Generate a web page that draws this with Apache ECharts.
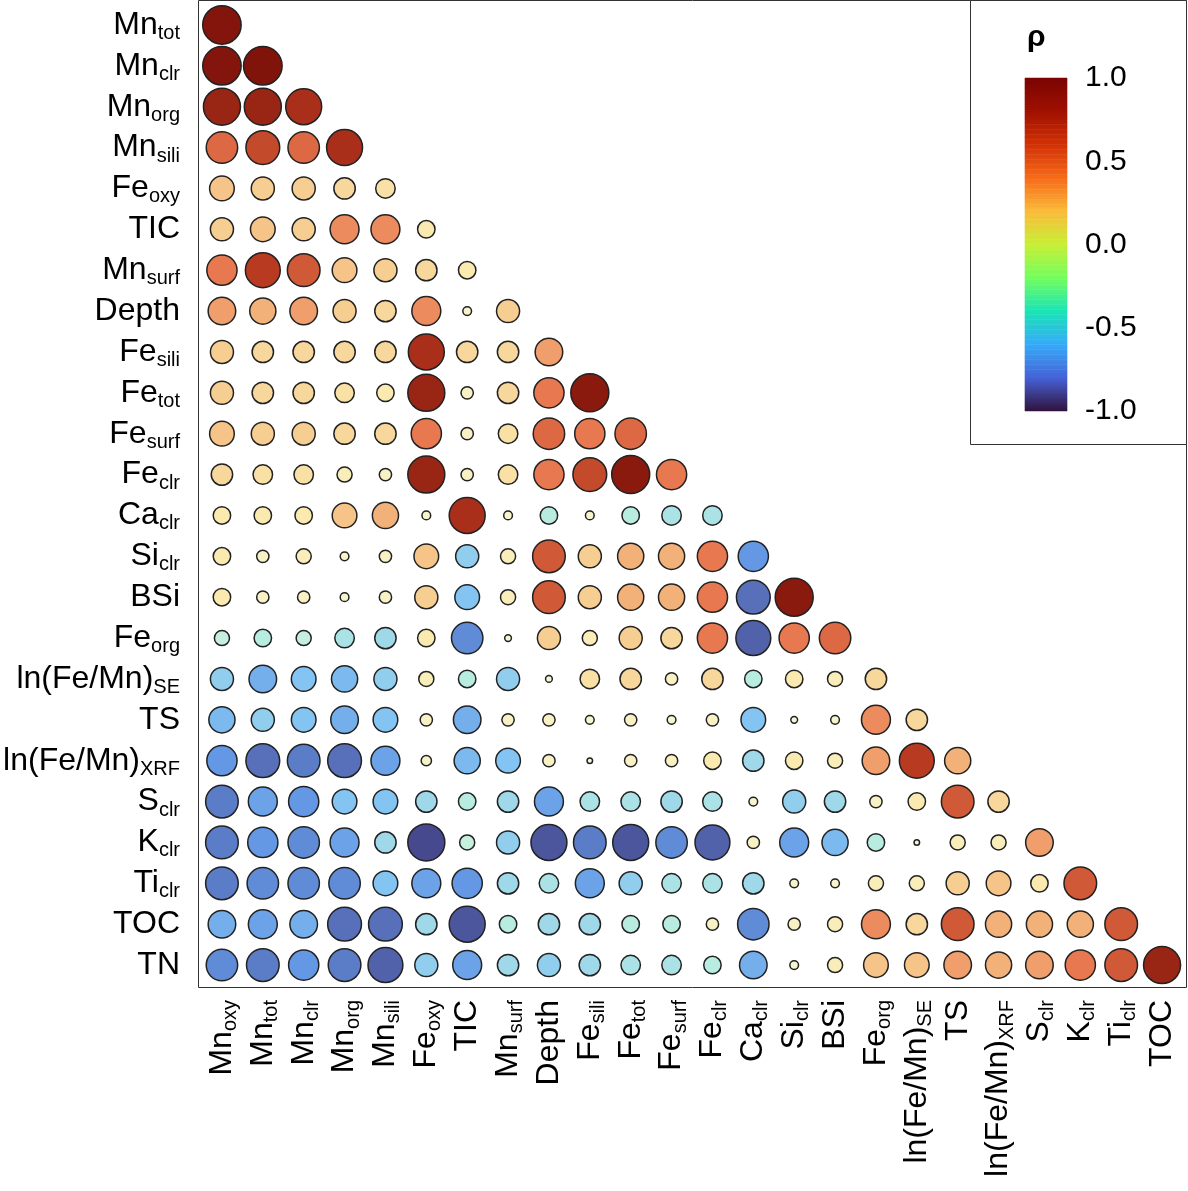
<!DOCTYPE html>
<html><head><meta charset="utf-8">
<script src="https://cdn.jsdelivr.net/npm/echarts@6/dist/echarts.min.js"></script>
<style>html,body{margin:0;padding:0;background:#fff}#c{width:1188px;height:1191px}</style>
</head><body><div id="c"></div>
<script>
const rowLabels = ['Mn_tot','Mn_clr','Mn_org','Mn_sili','Fe_oxy','TIC','Mn_surf','Depth','Fe_sili','Fe_tot','Fe_surf','Fe_clr','Ca_clr','Si_clr','BSi','Fe_org','ln(Fe/Mn)_SE','TS','ln(Fe/Mn)_XRF','S_clr','K_clr','Ti_clr','TOC','TN'];
const colLabels = ['Mn_oxy','Mn_tot','Mn_clr','Mn_org','Mn_sili','Fe_oxy','TIC','Mn_surf','Depth','Fe_sili','Fe_tot','Fe_surf','Fe_clr','Ca_clr','Si_clr','BSi','Fe_org','ln(Fe/Mn)_SE','TS','ln(Fe/Mn)_XRF','S_clr','K_clr','Ti_clr','TOC'];
const legendTicks = [-1, -0.5, 0, 0.5, 1];

const rho_Mn_tot = [0.97];
const rho_Mn_clr = [0.97,0.98];
const rho_Mn_org = [0.9,0.9,0.85];
const rho_Mn_sili = [0.65,0.75,0.65,0.85];
const rho_Fe_oxy = [0.4,0.35,0.35,0.3,0.25];
const rho_TIC = [0.35,0.4,0.35,0.55,0.55,0.2];
const rho_Mn_surf = [0.6,0.8,0.7,0.4,0.35,0.3,0.2];
const rho_Depth = [0.5,0.45,0.5,0.35,0.3,0.55,0.05,0.35];
const rho_Fe_sili = [0.35,0.3,0.3,0.3,0.3,0.85,0.3,0.3,0.5];
const rho_Fe_tot = [0.35,0.3,0.3,0.25,0.2,0.9,0.1,0.3,0.6,0.95];
const rho_Fe_surf = [0.4,0.35,0.35,0.3,0.3,0.6,0.1,0.25,0.65,0.6,0.65];
const rho_Fe_clr = [0.3,0.25,0.25,0.15,0.1,0.9,0.1,0.25,0.6,0.75,0.95,0.6];
const rho_Ca_clr = [0.2,0.2,0.2,0.4,0.45,0.05,0.85,0.05,-0.2,0.05,-0.2,-0.25,-0.25];
const rho_Si_clr = [0.2,0.1,0.15,0.05,0.1,0.4,-0.35,0.15,0.7,0.35,0.45,0.45,0.6,-0.6];
const rho_BSi = [0.2,0.1,0.1,0.05,0.1,0.35,-0.4,0.15,0.7,0.35,0.45,0.45,0.6,-0.75,0.95];
const rho_Fe_org = [-0.15,-0.2,-0.15,-0.25,-0.3,0.2,-0.65,0.03,0.35,0.15,0.35,0.3,0.6,-0.8,0.6,0.65];
const rho_lnSE = [-0.35,-0.5,-0.4,-0.45,-0.35,0.15,-0.2,-0.35,0.03,0.25,0.3,0.1,0.3,-0.2,0.2,0.15,0.3];
const rho_TS = [-0.45,-0.35,-0.4,-0.5,-0.4,0.1,-0.5,0.1,0.1,0.05,0.1,0.05,0.1,-0.4,0.03,0.05,0.55,0.3];
const rho_lnXRF = [-0.6,-0.75,-0.7,-0.75,-0.55,0.07,-0.45,-0.4,0.1,0.02,0.1,0.1,0.2,-0.3,0.2,0.15,0.5,0.8,0.45];
const rho_S_clr = [-0.7,-0.55,-0.6,-0.4,-0.4,-0.3,-0.2,-0.3,-0.55,-0.25,-0.25,-0.3,-0.25,0.05,-0.35,-0.3,0.1,0.2,0.7,0.3];
const rho_K_clr = [-0.7,-0.6,-0.65,-0.55,-0.3,-0.9,-0.15,-0.35,-0.85,-0.7,-0.85,-0.65,-0.8,0.1,-0.55,-0.45,-0.2,0.02,0.15,0.15,0.5];
const rho_Ti_clr = [-0.7,-0.65,-0.65,-0.65,-0.4,-0.55,-0.6,-0.3,-0.25,-0.55,-0.35,-0.25,-0.25,-0.3,0.05,0.05,0.15,0.15,0.35,0.4,0.2,0.7];
const rho_TOC = [-0.5,-0.55,-0.5,-0.75,-0.75,-0.3,-0.85,-0.2,-0.3,-0.3,-0.2,-0.2,0.1,-0.65,0.1,0.15,0.55,0.3,0.7,0.45,0.45,0.45,0.7];
const rho_TN = [-0.65,-0.7,-0.6,-0.7,-0.8,-0.35,-0.55,-0.3,-0.35,-0.3,-0.25,-0.25,-0.2,-0.5,0.05,0.15,0.4,0.4,0.5,0.45,0.5,0.6,0.7,0.9];

const rows = [rho_Mn_tot,rho_Mn_clr,rho_Mn_org,rho_Mn_sili,rho_Fe_oxy,rho_TIC,rho_Mn_surf,rho_Depth,rho_Fe_sili,rho_Fe_tot,rho_Fe_surf,rho_Fe_clr,rho_Ca_clr,rho_Si_clr,rho_BSi,rho_Fe_org,rho_lnSE,rho_TS,rho_lnXRF,rho_S_clr,rho_K_clr,rho_Ti_clr,rho_TOC,rho_TN];
const data = [];
rows.forEach((r,i)=>r.forEach((v,j)=>data.push([j,i,v])));

const FONT = 'Liberation Sans';
function fmt(s){ const k=s.indexOf('_'); if(k<0) return '{m|'+s+'}'; return '{m|'+s.slice(0,k)+'}{s|'+s.slice(k+1)+'}'; }
const rich = { m:{fontSize:32,fontFamily:FONT,color:'#000'}, s:{fontSize:20,fontFamily:FONT,color:'#000',padding:[17,0,0,0]} };

const nBar = 200;
const barCats = [], barData = [];
for(let k=0;k<nBar;k++){ barCats.push(k); barData.push([0,k,-1+2*(k+0.5)/nBar]); }

const chart = echarts.init(document.getElementById('c'));
chart.setOption({
  animation:false,
  title:{text:'ρ',left:1022,top:18,textStyle:{fontSize:30,fontWeight:'bold',fontFamily:FONT,color:'#000'}},
  graphic:[
    {type:'rect',z:0,shape:{x:198.5,y:0.5,width:988,height:987},style:{fill:'none',stroke:'#333',lineWidth:1}},
    {type:'rect',z:0,shape:{x:970.5,y:0.5,width:216,height:444},style:{fill:'#fff',stroke:'#333',lineWidth:1}}
  ],
  grid:[
    {left:201.5,top:4.5,width:981,height:981},
    {left:1025,top:78,width:42,height:333}
  ],
  xAxis:[
    {type:'category',gridIndex:0,data:colLabels,offset:2.5,axisLine:{show:false},
     axisTick:{alignWithLabel:true,length:8,lineStyle:{color:'#333'}},
     axisLabel:{rotate:90,margin:12,formatter:fmt,rich:rich,interval:0},splitLine:{show:false}},
    {type:'category',gridIndex:1,data:['c'],show:false}
  ],
  yAxis:[
    {type:'category',gridIndex:0,data:rowLabels,inverse:true,offset:3.5,axisLine:{show:false},
     axisTick:{alignWithLabel:true,length:7,lineStyle:{color:'#333'}},
     axisLabel:{margin:18,formatter:fmt,rich:rich,interval:0},splitLine:{show:false}},
    {type:'category',gridIndex:1,data:barCats,show:false},
    {type:'value',gridIndex:1,min:-1,max:1,interval:0.5,position:'right',
     axisLine:{show:false},axisTick:{show:true,inside:true,length:6,lineStyle:{color:'#fff'}},
     splitLine:{show:false},
     axisLabel:{margin:18,fontSize:30,fontFamily:FONT,color:'#000',formatter:v=>v.toFixed(1)}}
  ],
  visualMap:[
    {show:false,seriesIndex:0,min:-1,max:1,dimension:2,
     inRange:{color:['#3a3070','#5262aa','#6498e4','#84c4f2','#b8ece0','#f4f8d8','#faeab0','#f6c488','#e87850','#b83a20','#7a0f08']}},
    {show:false,seriesIndex:1,min:-1,max:1,dimension:2,
     inRange:{color:['#30123b','#4662d7','#36aaf9','#1ae4b6','#72fe5e','#c7ef34','#fabb39','#f66b19','#d23105','#a01101','#7a0403']}}
  ],
  series:[
    {type:'scatter',xAxisIndex:0,yAxisIndex:0,data:data,
     symbolSize:v=>39*Math.sqrt(Math.abs(v[2])),
     itemStyle:{borderColor:'#222',borderWidth:1.5,opacity:1}},
    {type:'heatmap',xAxisIndex:1,yAxisIndex:1,data:barData,z:3},
    {type:'line',xAxisIndex:1,yAxisIndex:2,data:[],z:4}
  ]
});
</script></body></html>
